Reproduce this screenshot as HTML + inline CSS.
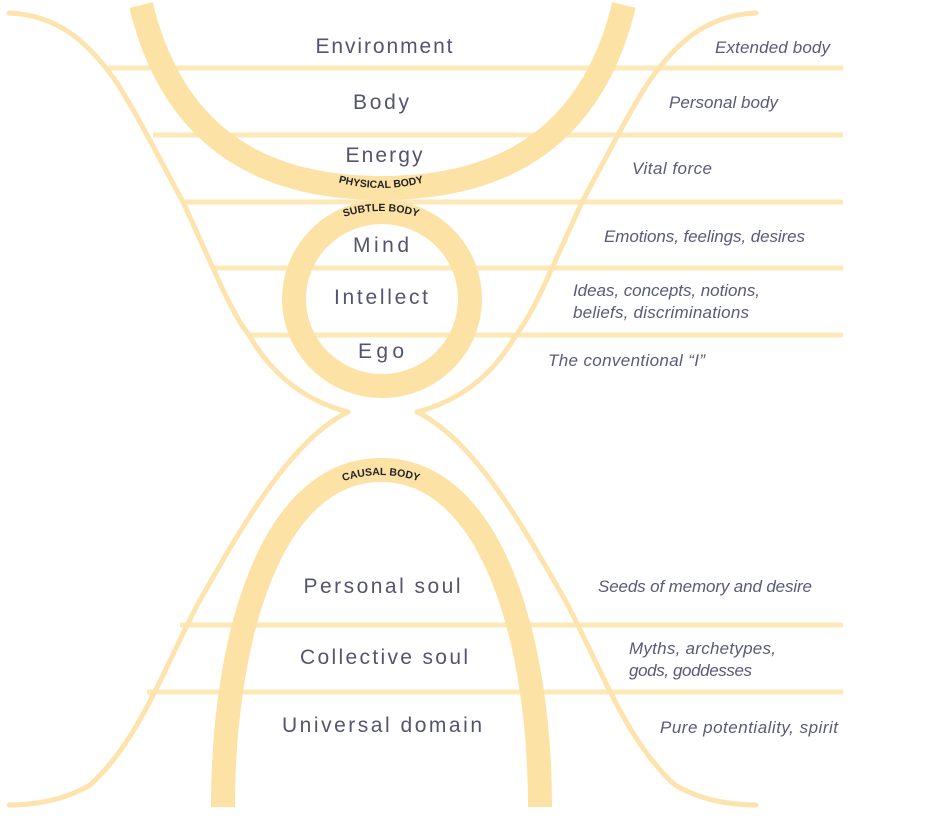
<!DOCTYPE html>
<html><head><meta charset="utf-8"><style>
html,body{margin:0;padding:0;background:#fff;}
svg{display:block;}
.c{font-family:"Liberation Sans",sans-serif;font-size:21px;fill:#55546e;text-anchor:middle;}
.r{font-family:"Liberation Sans",sans-serif;font-size:17px;font-style:italic;fill:#5a5a78;}
.s{font-family:"Liberation Sans",sans-serif;font-size:10.5px;font-weight:bold;fill:#222;}
</style></head><body>
<svg width="936" height="822" viewBox="0 0 936 822" xmlns="http://www.w3.org/2000/svg">
<defs>
<g id="half" fill="none" stroke="#fde4ae" stroke-width="5" stroke-linecap="round">
<path d="M9,13 C60,15 90,45 115,80 C135,110 160,160 183,202 L213,268 C225,295 237,320 249,335 C275,380 310,402 348,412"/>
<path d="M348,412 C290,440 240,530 200,600 C165,665 140,740 90,785 C65,800 35,805 9,805"/>
</g>
<path id="p1" d="M318,176 Q381,200 444,176"/>
<path id="p2" d="M322,226 Q381,196 440,226"/>
<path id="p3" d="M322,490 Q381,460 440,490"/>
</defs>
<g stroke="#fde8b8" stroke-width="5">
<line x1="108" y1="68" x2="843" y2="68"/>
<line x1="153" y1="135" x2="843" y2="135"/>
<line x1="183" y1="202" x2="843" y2="202"/>
<line x1="213" y1="268" x2="843" y2="268"/>
<line x1="249" y1="335" x2="843" y2="335"/>
<line x1="180" y1="625" x2="843" y2="625"/>
<line x1="147" y1="692" x2="843" y2="692"/>
</g>
<use href="#half"/>
<use href="#half" transform="translate(765,0) scale(-1,1)"/>
<g fill="none" stroke="#fde2a6" stroke-width="24">
<path d="M141,5 C175,145 270,188 382,188 C494,188 590,145 624,5"/>
<ellipse cx="382" cy="299" rx="88" ry="87"/>
<path d="M223,807 C223,640 270,470 381,470 C492,470 540,640 540,807"/>
</g>
<text class="s"><textPath href="#p1" startOffset="50%" text-anchor="middle">PHYSICAL BODY</textPath></text>
<text class="s"><textPath href="#p2" startOffset="50%" text-anchor="middle">SUBTLE BODY</textPath></text>
<text class="s"><textPath href="#p3" startOffset="50%" text-anchor="middle">CAUSAL BODY</textPath></text>
<text class="c" x="384" y="53" textLength="137">Environment</text>
<text class="c" x="381" y="109" textLength="56">Body</text>
<text class="c" x="384" y="162" textLength="77">Energy</text>
<text class="c" x="381" y="252" textLength="56">Mind</text>
<text class="c" x="381" y="304" textLength="94">Intellect</text>
<text class="c" x="381" y="358" textLength="46">Ego</text>
<text class="c" x="382" y="593" textLength="157">Personal soul</text>
<text class="c" x="384" y="664" textLength="168">Collective soul</text>
<text class="c" x="382" y="732" textLength="200">Universal domain</text>
<text class="r" x="715" y="53" textLength="115">Extended body</text>
<text class="r" x="669" y="108" textLength="109">Personal body</text>
<text class="r" x="632" y="174" textLength="80">Vital force</text>
<text class="r" x="604" y="242" textLength="201">Emotions, feelings, desires</text>
<text class="r" x="573" y="296" textLength="187">Ideas, concepts, notions,</text>
<text class="r" x="573" y="318" textLength="176">beliefs, discriminations</text>
<text class="r" x="548" y="366" textLength="157">The conventional “I”</text>
<text class="r" x="598" y="592" textLength="214">Seeds of memory and desire</text>
<text class="r" x="629" y="654" textLength="147">Myths, archetypes,</text>
<text class="r" x="629" y="676" textLength="123">gods, goddesses</text>
<text class="r" x="660" y="733" textLength="178">Pure potentiality, spirit</text>
</svg>
</body></html>
